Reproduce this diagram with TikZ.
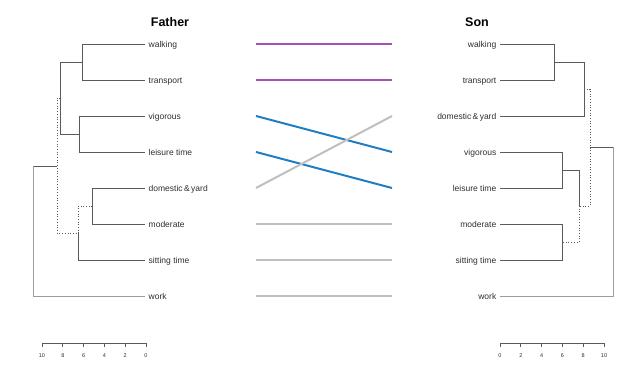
\documentclass[tikz,border=0pt]{standalone}
\usepackage{fontspec}
\setmainfont{Liberation Sans}
\usepackage{tikz}

\definecolor{dendgray}{HTML}{5A5A5A}
\definecolor{rootgray}{HTML}{9C9C9C}
\definecolor{txtgray}{HTML}{2E2E2E}
\definecolor{tanpurple}{HTML}{A650B6}
\definecolor{tanblue}{HTML}{1F7FC2}
\definecolor{tangray}{HTML}{BFBFBF}

\tikzset{
    leaf/.style={font=\fontsize{8.5}{9}\selectfont, text=txtgray, inner sep=3.5pt,
        text height=1.55ex, text depth=0.35ex},
    ttl/.style={font=\fontsize{12.5}{14}\selectfont\bfseries, text=black},
    dend/.style={draw=dendgray, line width=0.8pt},
    dendroot/.style={draw=rootgray, line width=0.8pt},
    dend dot/.style={draw=dendgray, line width=0.7pt, dotted},
    tangle/.style={line width=2pt},
    ticklab/.style={font=\fontsize{5.5}{6}\selectfont, text=txtgray, inner sep=1pt,
        text height=1.5ex, text depth=0pt}
}

\begin{document}
\begin{tikzpicture}[x=1pt,y=-1pt]
    \useasboundingbox (0,0) rectangle (631,371);

    % titles
    \node[ttl] (tfather) at (170,22) {Father};
    \node[ttl] (tson) at (477,22) {Son};

    % father leaves
    \node[leaf,anchor=west] (fwalk) at (145,44) {walking};
    \node[leaf,anchor=west] (ftrans) at (145,80) {transport};
    \node[leaf,anchor=west] (fvig) at (145,116) {vigorous};
    \node[leaf,anchor=west] (fleis) at (145,152) {leisure time};
    \node[leaf,anchor=west] (fdom) at (145,188) {domestic\,\&\,yard};
    \node[leaf,anchor=west] (fmod) at (145,224) {moderate};
    \node[leaf,anchor=west] (fsit) at (145,260) {sitting time};
    \node[leaf,anchor=west] (fwork) at (145,296) {work};

    % son leaves
    \node[leaf,anchor=east] (swalk) at (500,44) {walking};
    \node[leaf,anchor=east] (strans) at (500,80) {transport};
    \node[leaf,anchor=east] (sdom) at (500,116) {domestic\,\&\,yard};
    \node[leaf,anchor=east] (svig) at (500,152) {vigorous};
    \node[leaf,anchor=east] (sleis) at (500,188) {leisure time};
    \node[leaf,anchor=east] (smod) at (500,224) {moderate};
    \node[leaf,anchor=east] (ssit) at (500,260) {sitting time};
    \node[leaf,anchor=east] (swork) at (500,296) {work};

    % father tree
    \coordinate (f1) at (82,62);
    \coordinate (f2) at (79,134);
    \coordinate (f3) at (60,98);
    \coordinate (f4) at (92,206);
    \coordinate (f5) at (78,233);
    \coordinate (f6) at (57,166);
    \draw[dend] (fwalk.west) -| (82,80) -- (ftrans.west);
    \draw[dend] (fvig.west) -| (79,152) -- (fleis.west);
    \draw[dend] (f1) -| (60,134) -- (f2);
    \draw[dend] (fdom.west) -| (92,224) -- (fmod.west);
    \draw[dend dot] (f4) -| (f5);
    \draw[dend] (f5) |- (fsit.west);
    \draw[dend dot] (f3) -| (57,233) -- (f5);
    \draw[dend] (f6) -- (33,166);
    \draw[dendroot] (33,166) |- (fwork.west);

    % son tree
    \coordinate (s1) at (554,62);
    \coordinate (s2) at (584,89);
    \coordinate (s3) at (562,170);
    \coordinate (s4) at (562,242);
    \coordinate (s5) at (579,206);
    \coordinate (s6) at (590,147);
    \draw[dend] (swalk.east) -| (554,80) -- (strans.east);
    \draw[dend] (s1) -| (584,116) -- (sdom.east);
    \draw[dend] (svig.east) -| (562,188) -- (sleis.east);
    \draw[dend] (smod.east) -| (562,260) -- (ssit.east);
    \draw[dend] (s3) -| (s5);
    \draw[dend dot] (s5) |- (s4);
    \draw[dend dot] (s2) -| (590,206) -- (s5);
    \draw[dend] (s6) -- (613,147);
    \draw[dendroot] (613,147) |- (swork.east);

    % tanglegram connectors
    \foreach \i/\y in {1/44,2/80,3/116,4/152,5/188,6/224,7/260,8/296}{
        \coordinate (L\i) at (256,\y);
        \coordinate (R\i) at (392,\y);
    }
    \draw[tangle,tanpurple] (L1) -- (R1);
    \draw[tangle,tanpurple] (L2) -- (R2);
    \draw[tangle,tanblue] (L3) -- (R4);
    \draw[tangle,tanblue] (L4) -- (R5);
    \draw[tangle,tangray] (L5) -- (R3);
    \draw[tangle,tangray] (L6) -- (R6);
    \draw[tangle,tangray] (L7) -- (R7);
    \draw[tangle,tangray] (L8) -- (R8);

    % father axis
    \draw[dend] (42,343) -- (146,343);
    \foreach \v in {0,2,...,10}{
        \draw[dend] (146-10.4*\v,343) -- (146-10.4*\v,347);
        \node[ticklab,anchor=north] (fa\v) at (146-10.4*\v,348.5) {\v};
    }

    % son axis
    \draw[dend] (500,343) -- (604,343);
    \foreach \v in {0,2,...,10}{
        \draw[dend] (500+10.4*\v,343) -- (500+10.4*\v,347);
        \node[ticklab,anchor=north] (sa\v) at (500+10.4*\v,348.5) {\v};
    }
\end{tikzpicture}
\end{document}
